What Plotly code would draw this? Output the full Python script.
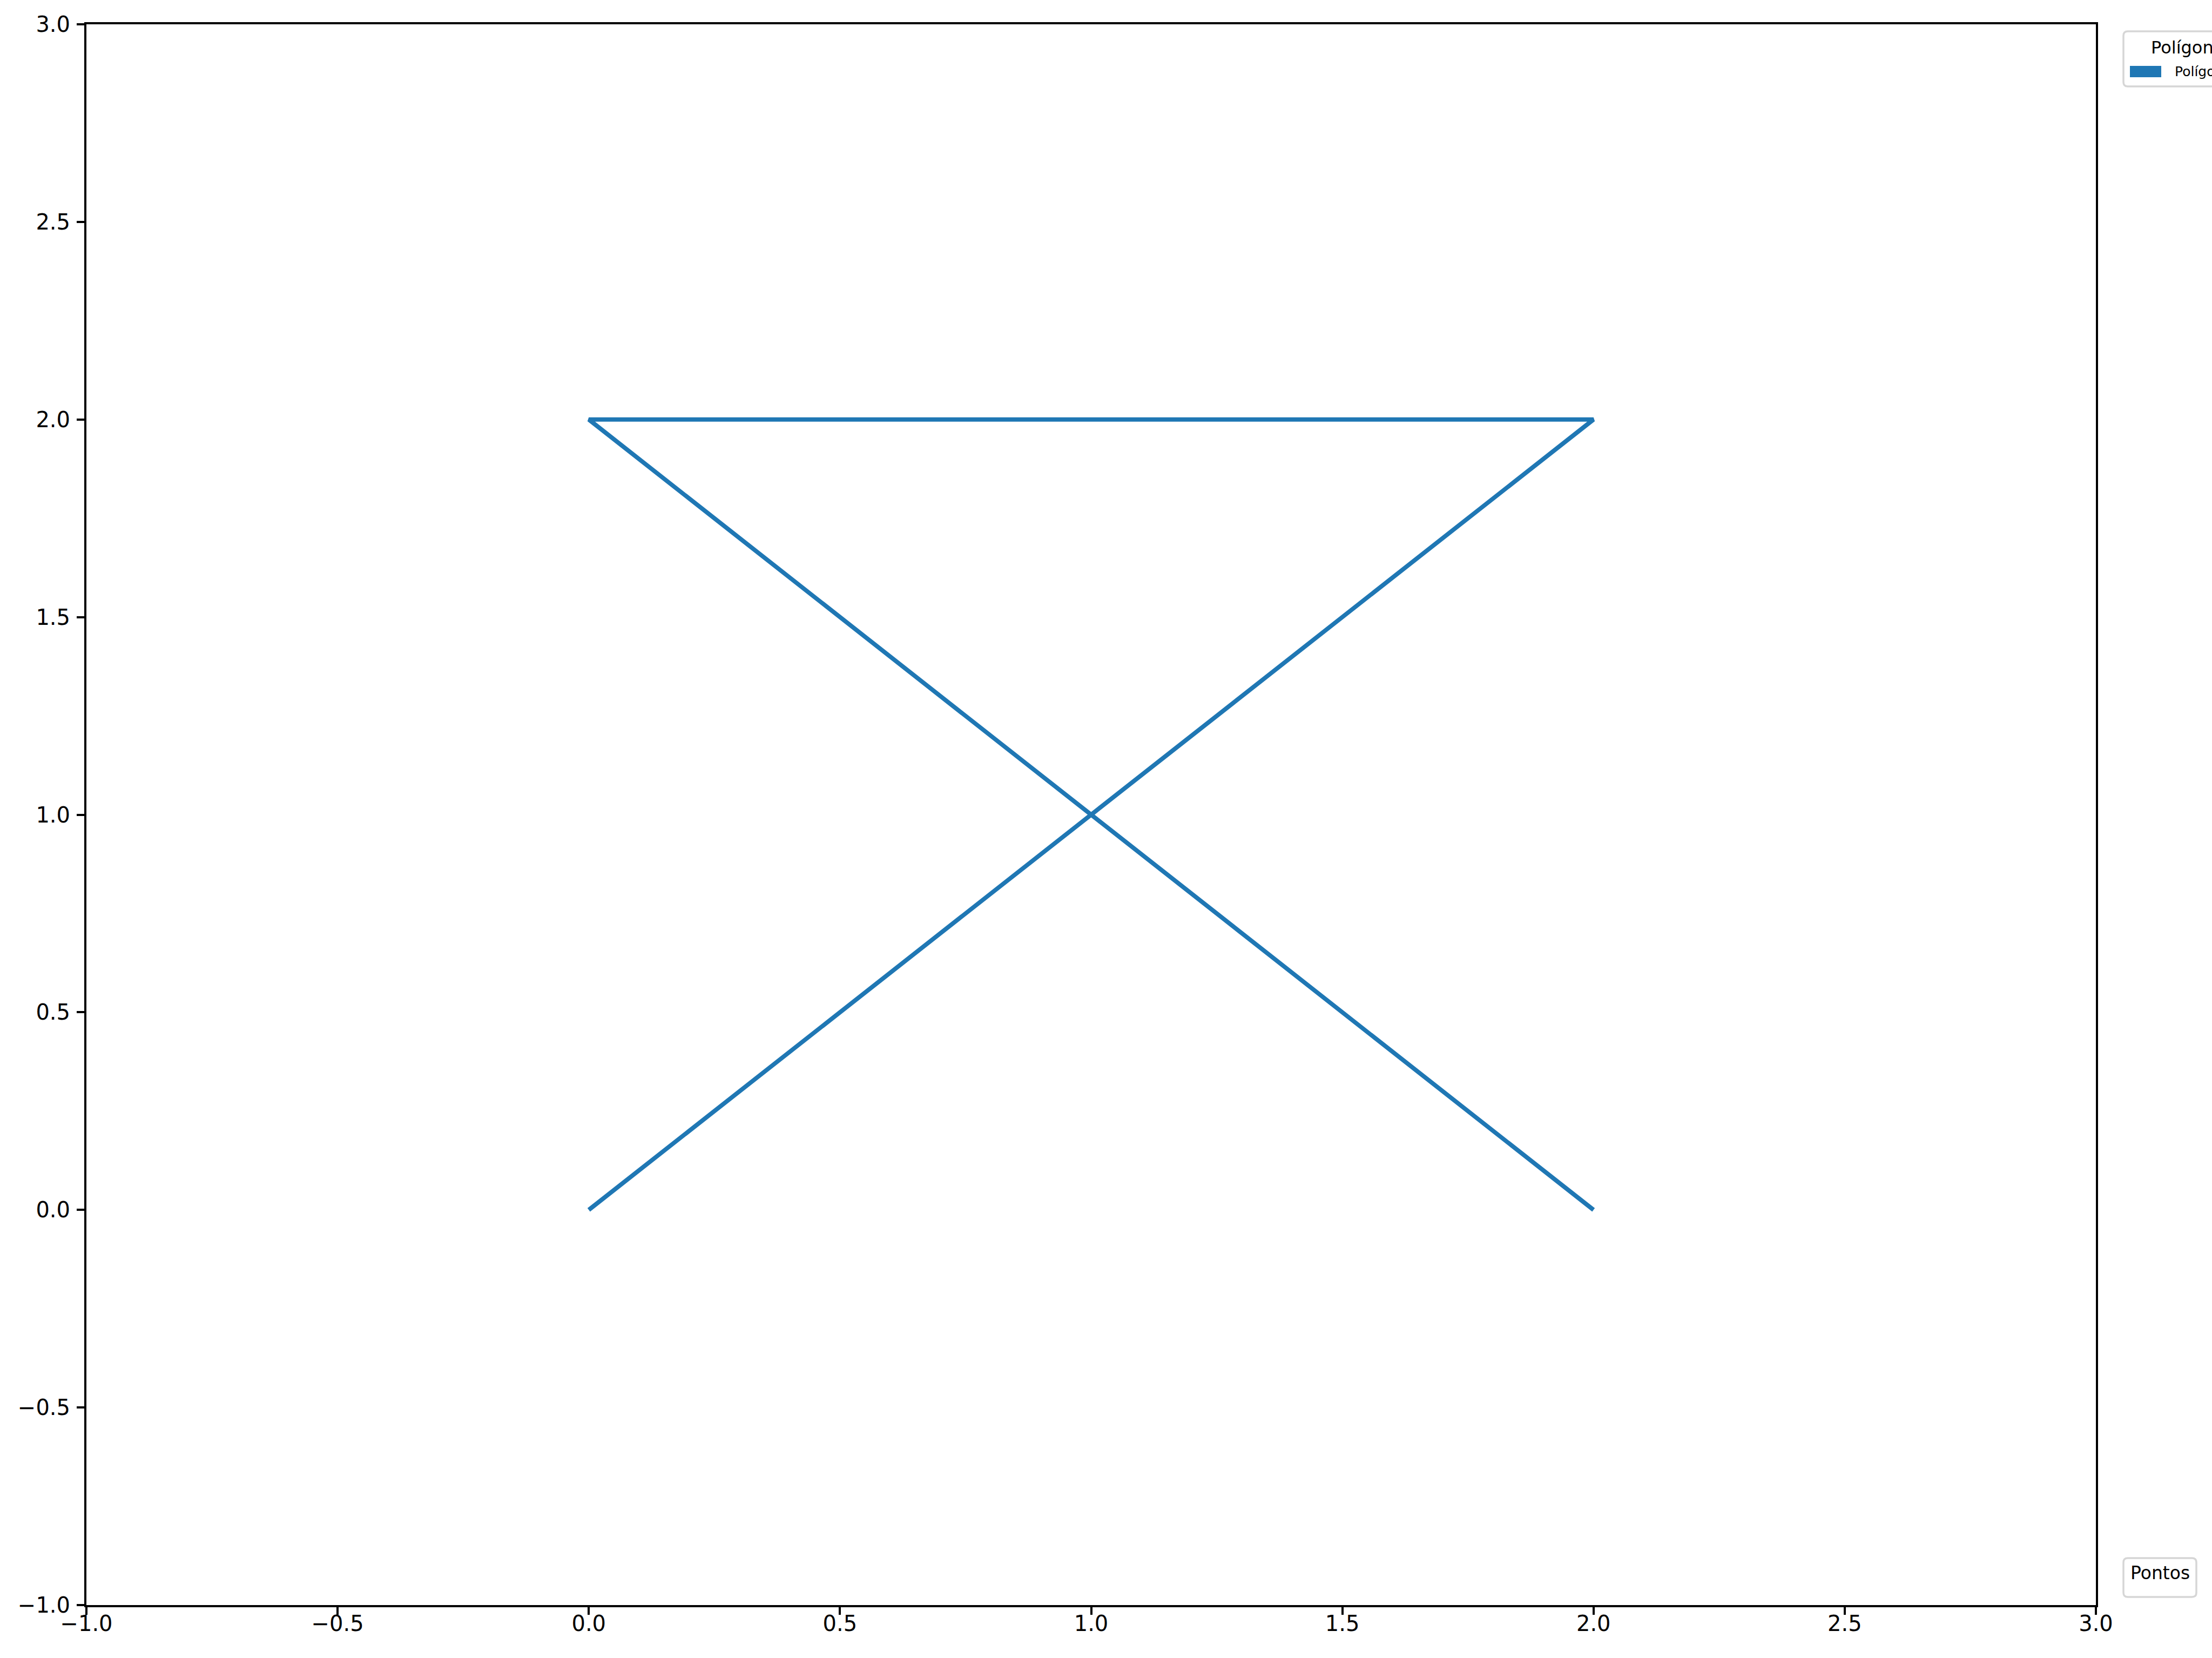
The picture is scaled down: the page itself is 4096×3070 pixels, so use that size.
import plotly.graph_objects as go

# ---- data ----
poly_x = [0, 2, 0, 2]
poly_y = [0, 2, 2, 0]
poly_name = "Polígono 1"
legend1_title = "Polígonos"
legend2_title = "Pontos"
tick_vals = [-1.0, -0.5, 0.0, 0.5, 1.0, 1.5, 2.0, 2.5, 3.0]
tick_text = ["\u22121.0", "\u22120.5", "0.0", "0.5", "1.0", "1.5", "2.0", "2.5", "3.0"]

W, H = 4096, 3070
L, R, T, B = 160, 3881, 45, 2972
PW, PH = R - L, B - T

def px(x):
    return (x - L) / PW

def py(y):
    return (B - y) / PH

def rounded_rect(x0, y0, x1, y1, r):
    # pixel coords -> paper path with rounded corners
    def P(x, y):
        return f"{px(x):.6f},{py(y):.6f}"
    return (f"M {P(x0 + r, y0)} L {P(x1 - r, y0)} Q {P(x1, y0)} {P(x1, y0 + r)} "
            f"L {P(x1, y1 - r)} Q {P(x1, y1)} {P(x1 - r, y1)} "
            f"L {P(x0 + r, y1)} Q {P(x0, y1)} {P(x0, y1 - r)} "
            f"L {P(x0, y0 + r)} Q {P(x0, y0)} {P(x0 + r, y0)} Z")

fig = go.Figure()
fig.add_trace(go.Scatter(
    x=poly_x, y=poly_y, mode="lines", name=poly_name,
    line=dict(color="#1f77b4", width=8), showlegend=False,
))

axis_common = dict(
    showgrid=False, zeroline=False, showline=True, linecolor="black", linewidth=4,
    mirror=True, ticks="outside", ticklen=14, tickwidth=3.5, tickcolor="black",
    tickmode="array", tickvals=tick_vals, ticktext=tick_text,
    tickfont=dict(family="DejaVu Sans", size=40, color="black"),
    range=[-1, 3],
)
fig.update_xaxes(**axis_common, ticklabelstandoff=-18)
fig.update_yaxes(**axis_common, ticklabelstandoff=4)

shapes = [
    dict(type="path", xref="paper", yref="paper",
         path=rounded_rect(3932, 58, 4250, 160, 8),
         line=dict(color="#d6d6d6", width=3.5), fillcolor="white", layer="above"),
    dict(type="rect", xref="paper", yref="paper",
         x0=px(3944), x1=px(4002), y0=py(143), y1=py(122),
         line=dict(width=0), fillcolor="#1f77b4", layer="above"),
    dict(type="path", xref="paper", yref="paper",
         path=rounded_rect(3932, 2885, 4067, 2957, 8),
         line=dict(color="#d6d6d6", width=3.5), fillcolor="white", layer="above"),
]

annotations = [
    dict(text=legend1_title, xref="paper", yref="paper", x=px(3981), y=py(88),
         xanchor="left", yanchor="middle", showarrow=False,
         font=dict(family="DejaVu Sans", size=32, color="black")),
    dict(text=poly_name, xref="paper", yref="paper", x=px(4025), y=py(133),
         xanchor="left", yanchor="middle", showarrow=False,
         font=dict(family="DejaVu Sans", size=25, color="black")),
    dict(text=legend2_title, xref="paper", yref="paper", x=px(3943), y=py(2912),
         xanchor="left", yanchor="middle", showarrow=False,
         font=dict(family="DejaVu Sans", size=33, color="black")),
]

fig.update_layout(
    width=W, height=H,
    margin=dict(l=L, r=W - R, t=T, b=H - B, autoexpand=False, pad=0),
    plot_bgcolor="white", paper_bgcolor="white",
    showlegend=False, shapes=shapes, annotations=annotations,
    font=dict(family="DejaVu Sans", color="black"),
)

fig.write_html("out.html", config={"displayModeBar": False},
               post_script="document.body.style.margin='0px';document.body.style.overflow='hidden';")
